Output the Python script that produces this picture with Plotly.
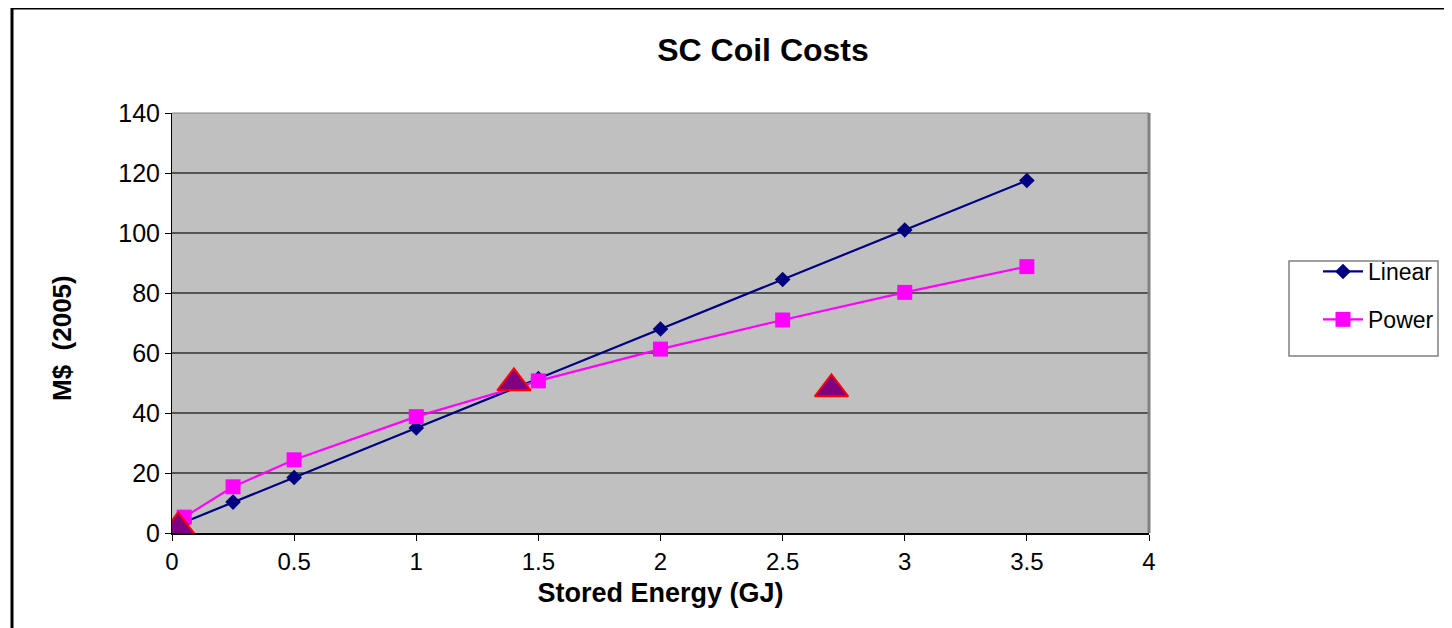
import plotly.graph_objects as go

# Data
linear_x = [0.05, 0.25, 0.5, 1, 1.5, 2, 2.5, 3, 3.5]
linear_y = [3.6, 10.3, 18.5, 35, 51.5, 68, 84.5, 101, 117.5]

power_x = [0.05, 0.25, 0.5, 1, 1.5, 2, 2.5, 3, 3.5]
power_y = [5.3, 15.4, 24.4, 38.8, 50.7, 61.3, 71, 80.2, 88.8]

tri_x = [0.025, 1.4, 2.7]
tri_y = [2, 50, 48]

x_ticks = [0, 0.5, 1, 1.5, 2, 2.5, 3, 3.5, 4]
x_tick_text = ["0", "0.5", "1", "1.5", "2", "2.5", "3", "3.5", "4"]
y_ticks = [0, 20, 40, 60, 80, 100, 120, 140]

FONT = "Liberation Sans, Arial, sans-serif"

# page body has an 8px margin; work in screen pixels and convert
OFF = 8
W, H = 1452 - OFF, 628 - OFF
PL, PR, PT, PB = 172, 1149, 113, 533  # plot area in screen pixels
L = PL - OFF
R = W - (PR - OFF)
T = PT - OFF
B = H - (PB - OFF)
pw, ph = W - L - R, H - T - B


def px(xs):
    return (xs - PL) / pw


def py(ys):
    return (PB - ys) / ph


fig = go.Figure()

fig.add_trace(go.Scatter(
    x=linear_x, y=linear_y, mode="lines+markers", name="Linear",
    legendgroup="a",
    line=dict(color="#000080", width=2.2),
    marker=dict(symbol="diamond", size=12, color="#000080"),
))
fig.add_trace(go.Scatter(
    x=power_x, y=power_y, mode="lines+markers", name="Power",
    legendgroup="b",
    line=dict(color="#FF00FF", width=2.2),
    marker=dict(symbol="square", size=15, color="#FF00FF"),
))
fig.add_trace(go.Scatter(
    x=tri_x, y=tri_y, mode="markers", showlegend=False,
    marker=dict(symbol="triangle-up", size=29, color="#800080",
                line=dict(color="#FF0000", width=2)),
))

fig.update_layout(
    width=W, height=H,
    margin=dict(l=L, r=R, t=T, b=B),
    paper_bgcolor="white",
    plot_bgcolor="#C0C0C0",
    font=dict(family=FONT, size=24, color="black"),
    title=dict(text="<b>SC Coil Costs</b>", xref="container",
               x=(763 - OFF) / W, xanchor="center",
               yref="container", y=1 - (50 - OFF) / H, yanchor="middle",
               font=dict(size=32, family=FONT, color="black")),
    xaxis=dict(
        range=[0, 4], tickvals=x_ticks, ticktext=x_tick_text,
        showgrid=False, zeroline=False,
        showline=True, linecolor="black", linewidth=2,
        ticks="outside", ticklen=6, tickcolor="black", tickwidth=1,
        tickfont=dict(size=24, family=FONT),
        title=dict(text="<b>Stored Energy (GJ)</b>", standoff=9,
                   font=dict(size=27, family=FONT)),
    ),
    yaxis=dict(
        range=[0, 140], tickvals=y_ticks,
        showgrid=True, gridcolor="#555555", gridwidth=1.5,
        zeroline=False,
        showline=True, linecolor="black", linewidth=1,
        ticks="outside", ticklen=6, tickcolor="black", tickwidth=1,
        tickfont=dict(size=25, family=FONT),
    ),
    annotations=[
        dict(text="<b>M$  (2005)</b>", xref="paper", yref="paper",
             x=px(62), y=py(338), xanchor="center", yanchor="middle",
             textangle=-90, showarrow=False,
             font=dict(size=26, family=FONT, color="black")),
    ],
    legend=dict(
        x=px(1318), y=py(250), xanchor="left", yanchor="top",
        bgcolor="rgba(0,0,0,0)", borderwidth=0,
        font=dict(size=23, family=FONT),
        itemwidth=40, traceorder="grouped", tracegroupgap=15,
    ),
    showlegend=True,
    shapes=[
        # legend box
        dict(type="rect", xref="paper", yref="paper",
             x0=px(1289), x1=px(1438), y0=py(356), y1=py(261),
             line=dict(color="#808080", width=1.5), fillcolor="white",
             layer="below"),
        # plot area right/top border (gray)
        dict(type="line", xref="paper", yref="paper", x0=1, x1=1, y0=0, y1=1,
             line=dict(color="#808080", width=3)),
        dict(type="line", xref="paper", yref="paper", x0=0, x1=1, y0=1, y1=1,
             line=dict(color="#808080", width=1)),
        # outer chart border
        dict(type="rect", xref="paper", yref="paper",
             x0=px(12), x1=px(1470), y0=py(650), y1=py(8),
             line=dict(color="black", width=3), fillcolor="rgba(0,0,0,0)",
             layer="above"),
    ],
)

fig.write_html(
    "out.html",
    post_script="document.documentElement.style.overflow='hidden';"
                "document.body.style.overflow='hidden';",
)
